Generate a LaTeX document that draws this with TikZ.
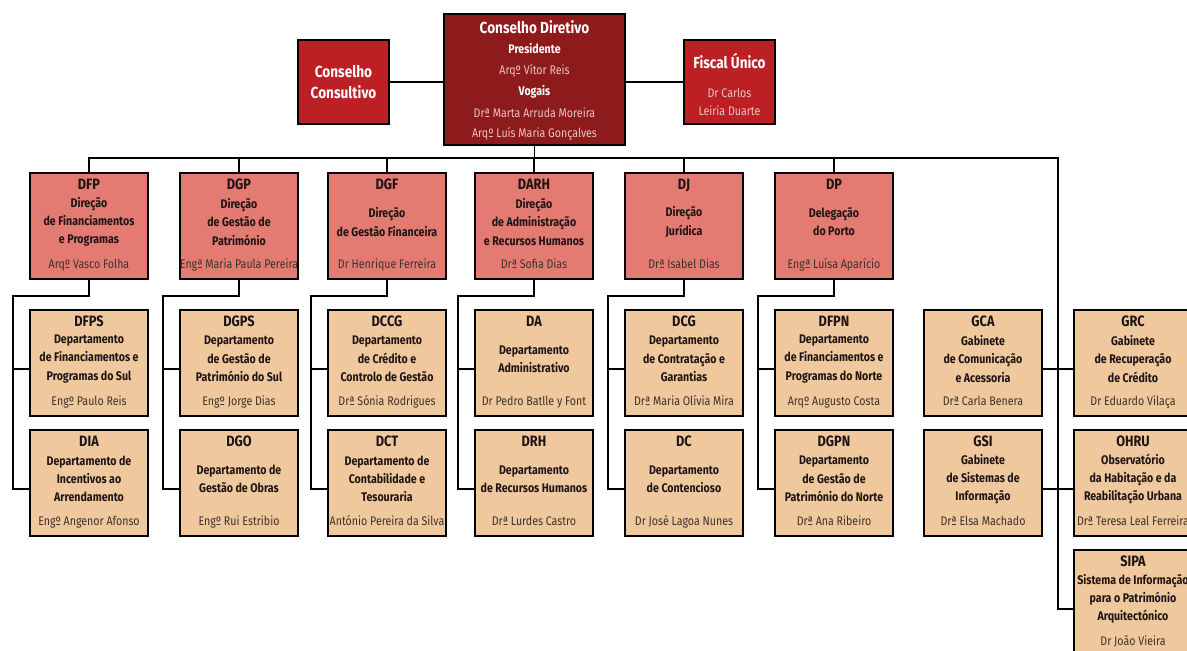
\documentclass[tikz,border=0pt]{standalone}
\usepackage{fontspec}
\setmainfont[FakeStretch=0.85]{Fira Sans}
\usepackage{xcolor}
\usepackage{tikz}
\usetikzlibrary{positioning, calc}

\definecolor{cdred}{RGB}{142,27,27}
\definecolor{ccred}{RGB}{189,32,36}
\definecolor{dirfill}{RGB}{228,123,114}
\definecolor{deptfill}{RGB}{240,200,158}
\definecolor{ink}{RGB}{30,20,20}
\definecolor{inkgray}{RGB}{60,50,45}
\definecolor{pale}{RGB}{232,196,196}

\tikzset{
  unit/.style={draw=black, line width=2pt, minimum width=118pt, minimum height=106pt, inner sep=0pt, anchor=north west},
  dir/.style={unit, fill=dirfill},
  dept/.style={unit, fill=deptfill},
  ttl/.style={font=\fontsize{15}{18}\selectfont\bfseries, text=ink, inner sep=0pt, anchor=base},
  txt/.style={font=\fontsize{12.5}{18.3}\selectfont\bfseries, text=ink, align=center, inner sep=0pt},
  who/.style={font=\fontsize{12.5}{15}\selectfont, text=inkgray, inner sep=0pt, anchor=base},
  toptxt/.style={font=\fontsize{16}{21}\selectfont\bfseries, text=white, align=center, inner sep=0pt},
  topsub/.style={font=\fontsize{12.5}{18}\selectfont\bfseries, text=white, inner sep=0pt},
  topwho/.style={font=\fontsize{12.5}{18}\selectfont, text=pale, inner sep=0pt},
  link/.style={draw=black, line width=1.7pt},
}

% box with acronym, unit name and head
\newcommand{\orgbox}[7]{%
  \node[#2] (#1) at (#3,-#4) {};
  \node[ttl] (#1-t) at ([yshift=-17.5pt]#1.north) {#5};
  \node[txt] (#1-b) at ([yshift=-50pt]#1.north) {#6};
  \node[who] (#1-n) at ([yshift=-96.5pt]#1.north) {#7};
}

\begin{document}
\begin{tikzpicture}[x=1pt, y=1pt]
  \useasboundingbox (0,0) rectangle (1187,-651);
  \clip (0,0) rectangle (1187,-651);

  % board
  \node[draw=black, line width=2pt, fill=cdred, minimum width=181pt, minimum height=131pt, inner sep=0pt, anchor=north west] (cd) at (443,-13) {};
  \node[toptxt] (cd-1) at ([yshift=-14pt]cd.north) {Conselho Diretivo};
  \node[topsub] (cd-2) at ([yshift=-36pt]cd.north) {Presidente};
  \node[topwho] (cd-3) at ([yshift=-58pt]cd.north) {Arqº Vítor Reis};
  \node[topsub] (cd-4) at ([yshift=-79pt]cd.north) {Vogais};
  \node[topwho] (cd-5) at ([yshift=-100pt]cd.north) {Drª Marta Arruda Moreira};
  \node[topwho] (cd-6) at ([yshift=-121pt]cd.north) {Arqº Luís Maria Gonçalves};

  \node[draw=black, line width=2pt, fill=ccred, minimum width=91pt, minimum height=84pt, inner sep=0pt, anchor=north west] (cc) at (297,-39) {};
  \node[toptxt] (cc-t) at (cc.center) {Conselho\\Consultivo};

  \node[draw=black, line width=2pt, fill=ccred, minimum width=91pt, minimum height=84pt, inner sep=0pt, anchor=north west] (fu) at (683,-39) {};
  \node[toptxt] (fu-t) at ([yshift=-22pt]fu.north) {Fiscal Único};
  \node[topwho] (fu-1) at ([yshift=-54pt]fu.north) {Dr Carlos};
  \node[topwho] (fu-2) at ([yshift=-72pt]fu.north) {Leiria Duarte};

  % directions
  \orgbox{dfp}{dir}{29}{172}{DFP}{Direção\\de Financiamentos\\e Programas}{Arqº Vasco Folha}
  \orgbox{dgp}{dir}{179}{172}{DGP}{Direção\\de Gestão de\\Património}{Engª Maria Paula Pereira}
  \orgbox{dgf}{dir}{327}{172}{DGF}{Direção\\de Gestão Financeira}{Dr Henrique Ferreira}
  \orgbox{darh}{dir}{474}{172}{DARH}{Direção\\de Administração\\e Recursos Humanos}{Drª Sofia Dias}
  \orgbox{dj}{dir}{624}{172}{DJ}{Direção\\Jurídica}{Drª Isabel Dias}
  \orgbox{dp}{dir}{774}{172}{DP}{Delegação\\do Porto}{Engª Luísa Aparício}

  % departments
  \orgbox{dfps}{dept}{29}{309}{DFPS}{Departamento\\de Financiamentos e\\Programas do Sul}{Engº Paulo Reis}
  \orgbox{dia}{dept}{29}{429}{DIA}{Departamento de\\Incentivos ao\\Arrendamento}{Engº Angenor Afonso}
  \orgbox{dgps}{dept}{179}{309}{DGPS}{Departamento\\de Gestão de\\Património do Sul}{Engº Jorge Dias}
  \orgbox{dgo}{dept}{179}{429}{DGO}{Departamento de\\Gestão de Obras}{Engº Rui Estribio}
  \orgbox{dccg}{dept}{327}{309}{DCCG}{Departamento\\de Crédito e\\Controlo de Gestão}{Drª Sónia Rodrigues}
  \orgbox{dct}{dept}{327}{429}{DCT}{Departamento de\\Contabilidade e\\Tesouraria}{António Pereira da Silva}
  \orgbox{da}{dept}{474}{309}{DA}{Departamento\\Administrativo}{Dr Pedro Batlle y Font}
  \orgbox{drh}{dept}{474}{429}{DRH}{Departamento\\de Recursos Humanos}{Drª Lurdes Castro}
  \orgbox{dcg}{dept}{624}{309}{DCG}{Departamento\\de Contratação e\\Garantias}{Drª Maria Olívia Mira}
  \orgbox{dc}{dept}{624}{429}{DC}{Departamento\\de Contencioso}{Dr José Lagoa Nunes}
  \orgbox{dfpn}{dept}{774}{309}{DFPN}{Departamento\\de Financiamentos e\\Programas do Norte}{Arqº Augusto Costa}
  \orgbox{dgpn}{dept}{774}{429}{DGPN}{Departamento\\de Gestão de\\Património do Norte}{Drª Ana Ribeiro}

  % offices
  \orgbox{gca}{dept}{923}{309}{GCA}{Gabinete\\de Comunicação\\e Acessoria}{Drª Carla Benera}
  \orgbox{gsi}{dept}{923}{429}{GSI}{Gabinete\\de Sistemas de\\Informação}{Drª Elsa Machado}
  \orgbox{grc}{dept}{1073}{309}{GRC}{Gabinete\\de Recuperação\\de Crédito}{Dr Eduardo Vilaça}
  \orgbox{ohru}{dept}{1073}{429}{OHRU}{Observatório\\da Habitação e da\\Reabilitação Urbana}{Drª Teresa Leal Ferreira}
  \orgbox{sipa}{dept}{1073}{549}{SIPA}{Sistema de Informação\\para o Património\\Arquitectónico}{Dr João Vieira}

  \coordinate (rail) at (1058,-158);

  \draw[link] (cc.east) -- (cc.east -| cd.west);
  \draw[link] (fu.west) -- (fu.west -| cd.east);
  \draw[link] (cd.south) -- (cd.south |- rail);
  \draw[link] (dfp.north) |- (rail) |- ([yshift=-6pt]sipa.west);
  \draw[link] (dgp.north) -- (dgp.north |- rail);
  \draw[link] (dgf.north) -- (dgf.north |- rail);
  \draw[link] (darh.north) -- (darh.north |- rail);
  \draw[link] (dj.north) -- (dj.north |- rail);
  \draw[link] (dp.north) -- (dp.north |- rail);

  \draw[link] (dfp.south) -- ++(0,-16) -| ([xshift=-16pt,yshift=-6pt]dia.west) -- ([yshift=-6pt]dia.west);
  \draw[link] ([xshift=-16pt,yshift=-6pt]dfps.west) -- ([yshift=-6pt]dfps.west);
  \draw[link] (dgp.south) -- ++(0,-16) -| ([xshift=-16pt,yshift=-6pt]dgo.west) -- ([yshift=-6pt]dgo.west);
  \draw[link] ([xshift=-16pt,yshift=-6pt]dgps.west) -- ([yshift=-6pt]dgps.west);
  \draw[link] (dgf.south) -- ++(0,-16) -| ([xshift=-16pt,yshift=-6pt]dct.west) -- ([yshift=-6pt]dct.west);
  \draw[link] ([xshift=-16pt,yshift=-6pt]dccg.west) -- ([yshift=-6pt]dccg.west);
  \draw[link] (darh.south) -- ++(0,-16) -| ([xshift=-16pt,yshift=-6pt]drh.west) -- ([yshift=-6pt]drh.west);
  \draw[link] ([xshift=-16pt,yshift=-6pt]da.west) -- ([yshift=-6pt]da.west);
  \draw[link] (dj.south) -- ++(0,-16) -| ([xshift=-16pt,yshift=-6pt]dc.west) -- ([yshift=-6pt]dc.west);
  \draw[link] ([xshift=-16pt,yshift=-6pt]dcg.west) -- ([yshift=-6pt]dcg.west);
  \draw[link] (dp.south) -- ++(0,-16) -| ([xshift=-16pt,yshift=-6pt]dgpn.west) -- ([yshift=-6pt]dgpn.west);
  \draw[link] ([xshift=-16pt,yshift=-6pt]dfpn.west) -- ([yshift=-6pt]dfpn.west);

  \draw[link] ([yshift=-6pt]gca.east) -- ([yshift=-6pt]grc.west);
  \draw[link] ([yshift=-6pt]gsi.east) -- ([yshift=-6pt]ohru.west);
\end{tikzpicture}
\end{document}
